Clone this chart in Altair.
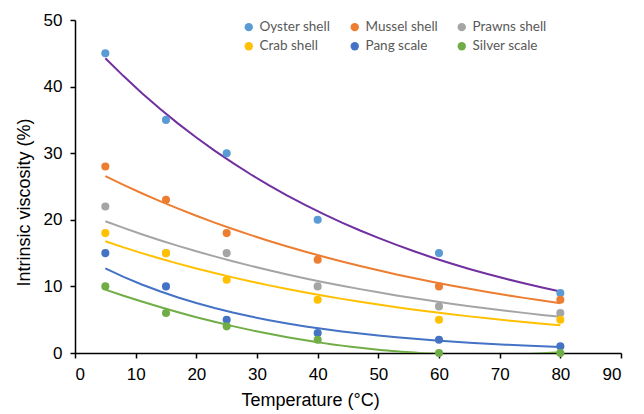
import altair as alt
import pandas as pd

temps = [5, 15, 25, 40, 60, 80]
series_names = ["Oyster shell", "Mussel shell", "Prawns shell", "Crab shell", "Pang scale", "Silver scale"]
oyster = [45, 35, 30, 20, 15, 9]
mussel = [28, 23, 18, 14, 10, 8]
prawns = [22, 15, 15, 10, 7, 6]
crab = [18, 15, 11, 8, 5, 5]
pang = [15, 10, 5, 3, 2, 1]
silver = [10, 6, 4, 2, 0, 0]
point_colors = ["#5B9BD5", "#ED7D31", "#A5A5A5", "#FFC000", "#4472C4", "#70AD47"]
line_colors = ["#7030A0", "#ED7D31", "#A5A5A5", "#FFC000", "#4472C4", "#70AD47"]

values = [oyster, mussel, prawns, crab, pang, silver]
rows = []
for name, vals in zip(series_names, values):
    for t, v in zip(temps, vals):
        rows.append({"Temperature": t, "Viscosity": v, "Series": name})
df = pd.DataFrame(rows)

# legend is filled column by column: reorder so it reads row by row
legend_order = [0, 3, 1, 4, 2, 5]
legend_domain = [series_names[i] for i in legend_order]
legend_range = [point_colors[i] for i in legend_order]

x_enc = alt.X("Temperature:Q", scale=alt.Scale(domain=[0, 90]),
              axis=alt.Axis(values=list(range(0, 91, 10)), title="Temperature (°C)",
                            titleX=235))
y_enc = alt.Y("Viscosity:Q", scale=alt.Scale(domain=[0, 50]),
              axis=alt.Axis(values=list(range(0, 51, 10)), title="Intrinsic viscosity (%)",
                            titleY=182))

base = alt.Chart(df)

lines = []
for name, lc in zip(series_names, line_colors):
    sub = base.transform_filter(alt.datum.Series == name)
    if name == "Silver scale":
        ln = sub.transform_regression(
            "Temperature", "Viscosity", method="poly", order=2, extent=[5, 80]
        ).mark_line(color=lc, strokeWidth=2, clip=True).encode(x=x_enc, y=y_enc)
    else:
        ln = sub.transform_calculate(ly="log(datum.Viscosity)").transform_regression(
            "Temperature", "ly", method="poly", order=1, extent=[5, 80]
        ).transform_calculate(Viscosity="exp(datum.ly)").mark_line(
            color=lc, strokeWidth=2, clip=True).encode(x=x_enc, y=y_enc)
    lines.append(ln)

points = base.mark_circle(size=65, opacity=1).encode(
    x=x_enc, y=y_enc,
    color=alt.Color("Series:N",
                    scale=alt.Scale(domain=legend_domain, range=legend_range),
                    legend=alt.Legend(title=None, orient="none", legendX=167, legendY=0,
                                      columns=3, columnPadding=17, rowPadding=4.5,
                                      symbolType="circle", symbolSize=70, symbolOffset=0,
                                      labelFont="Lato", labelFontSize=13.5, labelColor="#595959",
                                      labelOffset=4))
)

chart = alt.layer(*lines, points).properties(
    width=546, height=333, padding={"left": 7, "top": 3, "right": 5, "bottom": 5}
).configure_view(stroke=None).configure_axis(
    grid=False, domainColor="black", domainWidth=1.5, tickColor="black", tickSize=5,
    tickWidth=1.5, labelFont="Liberation Sans", labelFontSize=17, labelColor="#000000",
    titleFont="Liberation Sans", titleFontSize=18, titleFontWeight="normal", titleColor="#000000",
    labelPadding=8
).configure_axisY(titlePadding=10).configure_axisX(titlePadding=9)

chart.save("out.html", embed_options={"renderer": "svg", "actions": False})
